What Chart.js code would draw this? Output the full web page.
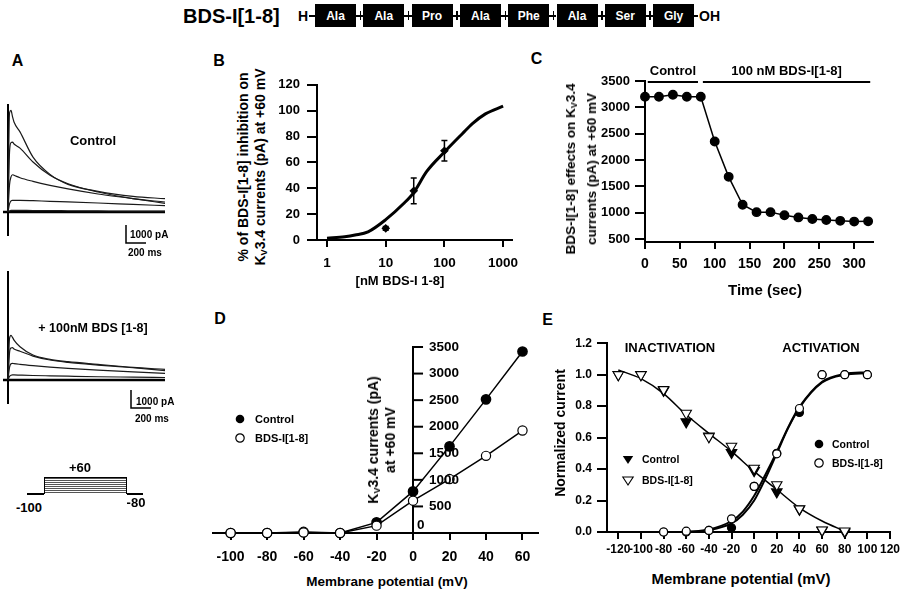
<!DOCTYPE html>
<html lang="en">
<head>
<meta charset="UTF-8">
<meta name="viewport" content="width=device-width, initial-scale=1.0">
<title>BDS-I[1-8] - Kv3.4 currents</title>
<script src="https://cdn.jsdelivr.net/npm/chart.js"></script>
<style>
    body { margin: 0; background: #fff; }
    #fig {
        position: relative; width: 909px; height: 592px; overflow: hidden; background: #fff; color: #000;
        font-family: 'Liberation Sans', Arial, Helvetica, sans-serif; font-weight: bold;
    }
    .plot { position: absolute; }
    .t { position: absolute; transform: translate(-50%, -50%); white-space: nowrap; line-height: 1; }
    .t.l { transform: translate(0, -50%); }
    .rot { position: absolute; transform: translate(-50%, -50%) rotate(-90deg); white-space: nowrap; text-align: center; }
    sub { font-size: 0.65em; vertical-align: -0.2em; line-height: 0; }
    .panel { font-size: 16px; }
    .aa {
        position: absolute; top: 4px; width: 41px; height: 23px; background: #000; color: #fff; font-size: 12px;
        display: flex; align-items: center; justify-content: center;
    }
    .link { position: absolute; top: 15px; height: 1.5px; background: #000; }
    .link.tick::after { content: ''; position: absolute; left: 50%; top: -4px; width: 1.5px; height: 9px; background: #000; }
    .mk { position: absolute; transform: translate(-50%, -50%); overflow: visible; }
    .line { position: absolute; background: #000; }
    #proto {
        position: absolute; left: 44px; top: 477px; width: 83px; height: 17px; box-sizing: border-box;
        border: 1.5px solid #000; border-bottom: none;
        background: repeating-linear-gradient(to bottom, #555 0, #555 1px, #fff 1px, #fff 2px);
    }
</style>
</head>
<body>
<div id="fig">
    <!-- sequence header -->
    <div class="t l" style="left:183px;top:15.5px;font-size:20px">BDS-I[1-8]</div>
    <div class="t l" style="left:298px;top:16px;font-size:14px">H</div>
    <div id="seq"></div>
    <div class="t l" style="left:699px;top:16px;font-size:14px">OH</div>

    <!-- panel letters -->
    <div class="t panel" style="left:17.5px;top:61px">A</div>
    <div class="t panel" style="left:219px;top:61px">B</div>
    <div class="t panel" style="left:536.5px;top:59px">C</div>
    <div class="t panel" style="left:220px;top:319px">D</div>
    <div class="t panel" style="left:547.5px;top:320px">E</div>

    <!-- panel A -->
    <div class="plot" id="wrapA1"><canvas id="chartA1"></canvas></div>
    <div class="plot" id="wrapA2"><canvas id="chartA2"></canvas></div>
    <div class="t" style="left:93px;top:140px;font-size:13px">Control</div>
    <div class="t" style="left:93px;top:328px;font-size:12.5px">+ 100nM BDS [1-8]</div>
    <div class="t l" style="left:130px;top:235px;font-size:10px">1000 pA</div>
    <div class="t l" style="left:128px;top:253px;font-size:10px">200 ms</div>
    <div class="t l" style="left:136px;top:402px;font-size:10px">1000 pA</div>
    <div class="t l" style="left:135px;top:419px;font-size:10px">200 ms</div>
    <div class="line" style="left:27px;top:493px;width:17px;height:1.5px"></div>
    <div id="proto"></div>
    <div class="line" style="left:127px;top:493px;width:16px;height:1.5px"></div>
    <div class="t" style="left:80px;top:467px;font-size:13px">+60</div>
    <div class="t" style="left:29px;top:507px;font-size:13px">-100</div>
    <div class="t" style="left:136px;top:502px;font-size:13px">-80</div>

    <!-- panel B -->
    <div class="plot" id="wrapB"><canvas id="chartB"></canvas></div>
    <div class="rot" style="left:252px;top:167px;font-size:14px;line-height:17px">% of BDS-I[1-8] inhibition on<br>K<sub>V</sub>3.4 currents (pA) at +60 mV</div>
    <div class="t" style="left:400px;top:280px;font-size:13px">[nM BDS-I 1-8]</div>

    <!-- panel C -->
    <div class="plot" id="wrapC"><canvas id="chartC"></canvas></div>
    <div class="rot" style="left:581px;top:169px;font-size:13.5px;line-height:21px">BDS-I[1-8] effects on K<sub>V</sub>3.4<br>currents (pA) at +60 mV</div>
    <div class="t" style="left:765px;top:289px;font-size:15px">Time (sec)</div>

    <!-- panel D -->
    <div class="plot" id="wrapD"><canvas id="chartD"></canvas></div>
    <div class="rot" style="left:381.5px;top:440px;font-size:14px;line-height:17px">K<sub>V</sub>3.4 currents (pA)<br>at +60 mV</div>
    <div class="t" style="left:387px;top:582px;font-size:13.5px">Membrane potential (mV)</div>
    <svg class="mk" style="left:240px;top:419px" width="10" height="10" viewBox="-5 -5 10 10"><circle r="4.3" fill="#000"/></svg>
    <div class="t l" style="left:255px;top:419px;font-size:11px">Control</div>
    <svg class="mk" style="left:240px;top:438px" width="10" height="10" viewBox="-5 -5 10 10"><circle r="4.2" fill="#fff" stroke="#000" stroke-width="1.2"/></svg>
    <div class="t l" style="left:255px;top:438px;font-size:11px">BDS-I[1-8]</div>

    <!-- panel E -->
    <div class="plot" id="wrapE"><canvas id="chartE"></canvas></div>
    <div class="rot" style="left:560px;top:433px;font-size:14px">Normalized current</div>
    <div class="t" style="left:741px;top:578px;font-size:15px">Membrane potential (mV)</div>
    <div class="t" style="left:670px;top:347px;font-size:13px">INACTIVATION</div>
    <div class="t" style="left:821px;top:347px;font-size:13px">ACTIVATION</div>
    <svg class="mk" style="left:628px;top:459px" width="12" height="12" viewBox="-6 -6 12 12"><path d="M0 5 L-5.2 -3 L5.2 -3 Z" fill="#000"/></svg>
    <div class="t l" style="left:642px;top:459px;font-size:10.5px">Control</div>
    <svg class="mk" style="left:628px;top:480px" width="12" height="12" viewBox="-6 -6 12 12"><path d="M0 5 L-5.2 -3 L5.2 -3 Z" fill="#fff" stroke="#000" stroke-width="1.1"/></svg>
    <div class="t l" style="left:642px;top:480px;font-size:10.5px">BDS-I[1-8]</div>
    <svg class="mk" style="left:819px;top:444px" width="10" height="10" viewBox="-5 -5 10 10"><circle r="4.3" fill="#000"/></svg>
    <div class="t l" style="left:832px;top:444px;font-size:10.5px">Control</div>
    <svg class="mk" style="left:819px;top:463px" width="10" height="10" viewBox="-5 -5 10 10"><circle r="4.2" fill="#fff" stroke="#000" stroke-width="1.2"/></svg>
    <div class="t l" style="left:832px;top:463px;font-size:10.5px">BDS-I[1-8]</div>
</div>

<script>
    // ---- data ----

    // peptide sequence
    const PEPTIDE = ['Ala', 'Ala', 'Pro', 'Ala', 'Phe', 'Ala', 'Ser', 'Gly'];

    // A: current traces, time in ms, current in pA
    const A_T = [0, 15, 30, 45, 60, 120, 250, 420, 600, 900, 1250, 1570];
    const A_CTRL_1 = [0, 5500, 5640, 5300, 5000, 4450, 3050, 2090, 1535, 1150, 870, 740];
    const A_CTRL_2 = [0, 3300, 3850, 3880, 3780, 3550, 2775, 2035, 1570, 1110, 740, 555];
    const A_CTRL_3 = [0, 1500, 1950, 2070, 2040, 1900, 1700, 1480, 1280, 1000, 740, 480];
    const A_CTRL_4 = [0, 450, 620, 650, 650, 650, 630, 590, 560, 500, 420, 350];
    const A_CTRL_5 = [0, 60, 90, 90, 90, 90, 80, 80, 70, 60, 50, 50];
    const A_BDS_1 = [0, 2300, 2480, 2370, 2220, 1850, 1390, 1150, 1020, 870, 700, 590];
    const A_BDS_2 = [0, 1500, 1780, 1800, 1720, 1600, 1330, 1110, 980, 830, 680, 520];
    const A_BDS_3 = [0, 700, 900, 925, 910, 870, 800, 720, 650, 550, 450, 370];
    const A_BDS_4 = [0, 200, 260, 280, 280, 270, 250, 230, 210, 180, 160, 140];
    const A_HOLD_T = [-50, 1570];
    const A_HOLD = [0, 0];
    const SCALE_BAR_PA = 1000;
    const SCALE_BAR_MS = 200;

    // B: concentration-response
    const B_CONC = [10, 30, 100];
    const B_INHIB = [9, 38, 69];
    const B_SEM = [1.5, 10, 8];
    const B_FIT_CONC = [1, 2, 3, 5, 10, 20, 30, 50, 100, 200, 300, 500, 1000];
    const B_FIT_INHIB = [1.3, 2.5, 3.8, 6.3, 15.7, 28, 36.7, 53, 68, 82, 90, 97.5, 103.5];
    const B_X_TICKS = [1, 10, 100, 1000];
    const B_Y_TICKS = [0, 20, 40, 60, 80, 100, 120];

    // C: time course at +60 mV
    const C_TIME = [0, 20, 40, 60, 80, 100, 120, 140, 160, 180, 200, 220, 240, 260, 280, 300, 320];
    const C_CURRENT = [3200, 3200, 3240, 3200, 3200, 2350, 1680, 1150, 1010, 1010, 950, 910, 880, 860, 845, 830, 835];
    const C_X_TICKS = [0, 50, 100, 150, 200, 250, 300];
    const C_Y_TICKS = [500, 1000, 1500, 2000, 2500, 3000, 3500];
    const C_PERIODS = ['Control', '100 nM BDS-I[1-8]'];
    const C_PERIOD_FROM = [4, 83];
    const C_PERIOD_TO = [76, 323];

    // D: I-V relationship
    const D_VOLT = [-100, -80, -60, -40, -20, 0, 20, 40, 60];
    const D_CTRL = [0, 0, 20, 0, 200, 783, 1630, 2515, 3415];
    const D_BDS = [0, 0, 10, 0, 138, 608, 1015, 1452, 1928];
    const D_Y_TICKS = [0, 500, 1000, 1500, 2000, 2500, 3000, 3500];

    // E: activation / inactivation
    const E_INACT_V = [-120, -100, -80, -60, -40, -20, 0, 20, 40, 60, 80];
    const E_INACT_CTRL = [1.0, 1.0, 0.9, 0.70, 0.61, 0.505, 0.39, 0.255, 0.145, 0.01, 0.0];
    const E_INACT_BDS = [1.0, 1.0, 0.905, 0.755, 0.605, 0.545, 0.405, 0.30, 0.147, 0.013, 0.006];
    const E_ACT_V = [-80, -60, -40, -20, 0, 20, 40, 60, 80, 100];
    const E_ACT_CTRL = [0, 0, 0.01, 0.027, 0.29, 0.5, 0.76, 1.0, 1.0, 1.0];
    const E_ACT_BDS = [0, 0.005, 0.01, 0.084, 0.29, 0.497, 0.785, 1.0, 1.0, 1.0];
    const E_INACT_FIT_V = [-120, -100, -80, -60, -40, -20, 0, 20, 40, 60, 80];
    const E_INACT_FIT = [1.03, 0.975, 0.88, 0.745, 0.627, 0.512, 0.385, 0.27, 0.154, 0.07, 0.005];
    const E_ACT_FIT_V = [-60, -40, -20, -10, 0, 10, 20, 30, 40, 60, 80, 100];
    const E_ACT_FIT_CTRL = [0, 0.012, 0.055, 0.11, 0.2, 0.34, 0.5, 0.66, 0.79, 0.95, 1.0, 1.01];
    const E_ACT_FIT_BDS = [0, 0.016, 0.07, 0.13, 0.23, 0.365, 0.51, 0.665, 0.795, 0.955, 1.005, 1.015];
    const E_X_TICKS = [-120, -100, -80, -60, -40, -20, 0, 20, 40, 60, 80, 100, 120];
    const E_Y_TICKS = [0, 0.2, 0.4, 0.6, 0.8, 1.0, 1.2];

    // ---- peptide boxes ----
    const seq = document.getElementById('seq');
    const SEQ_LEFT = 315, SEQ_PITCH = 48.3, BOX_W = 41;
    function link(from, to, tick) {
        const d = document.createElement('div');
        d.className = tick ? 'link tick' : 'link';
        d.style.left = from + 'px';
        d.style.width = (to - from) + 'px';
        seq.appendChild(d);
    }
    link(309, SEQ_LEFT, false);
    PEPTIDE.forEach((aa, i) => {
        const x = SEQ_LEFT + i * SEQ_PITCH;
        const b = document.createElement('div');
        b.className = 'aa';
        b.style.left = x + 'px';
        b.textContent = aa;
        seq.appendChild(b);
        if (i < PEPTIDE.length - 1) link(x + BOX_W, x + SEQ_PITCH, true);
    });
    link(SEQ_LEFT + (PEPTIDE.length - 1) * SEQ_PITCH + BOX_W, 698, false);

    // ---- chart setup ----
    const FONT = "'Liberation Sans', Arial, Helvetica, sans-serif";
    Chart.defaults.font.family = FONT;
    Chart.defaults.font.weight = 'bold';
    Chart.defaults.color = '#000';
    Chart.defaults.animation = false;
    Chart.defaults.responsive = true;
    Chart.defaults.maintainAspectRatio = false;
    Chart.defaults.events = [];
    Chart.defaults.plugins.legend.display = false;
    Chart.defaults.plugins.tooltip.enabled = false;

    const xy = (xs, ys) => xs.map((x, i) => ({x: x, y: ys[i]}));

    // place the wrapper so that the chart area lands on the wanted page box
    function frame(wrapId, area, yW, xH, pad) {
        const left = Math.floor(area.l - yW - pad.l);
        const top = Math.floor(area.t - pad.t);
        const right = Math.ceil(area.r + pad.r);
        const bottom = Math.ceil(area.b + xH + pad.b);
        const wrap = document.getElementById(wrapId);
        wrap.style.left = left + 'px';
        wrap.style.top = top + 'px';
        wrap.style.width = (right - left) + 'px';
        wrap.style.height = (bottom - top) + 'px';
        return {left: area.l - yW - left, top: area.t - top, right: right - area.r, bottom: bottom - area.b - xH};
    }

    function axis(o) {
        const a = {
            type: o.type || 'linear',
            min: o.min,
            max: o.max,
            border: {display: true, color: '#000', width: 2},
            grid: {display: o.tickLen > 0, drawOnChartArea: false, drawTicks: true, tickLength: o.tickLen || 0, color: '#000', lineWidth: 2},
            ticks: {
                display: o.size > 0, color: '#000', font: {size: o.size || 12, weight: 'bold'}, padding: o.pad || 0,
                autoSkip: false, maxRotation: 0, minRotation: 0, callback: o.fmt || (v => String(v))
            },
            afterBuildTicks: s => { s.ticks = (o.ticks || []).map(v => ({value: v})); },
            afterFit: s => {
                if (o.fit === undefined) return;
                if (s.isHorizontal()) s.height = o.fit; else s.width = o.fit;
            }
        };
        if (o.position) a.position = o.position;
        return a;
    }

    function curve(xs, ys, extra) {
        return Object.assign({
            data: xy(xs, ys), pointRadius: 0, borderColor: '#000', borderWidth: 1.5,
            cubicInterpolationMode: 'monotone', clip: false
        }, extra);
    }

    function markers(xs, ys, extra) {
        return Object.assign({
            data: xy(xs, ys), showLine: false, pointRadius: 4, pointBorderWidth: 1.2,
            pointBackgroundColor: '#000', pointBorderColor: '#000', borderColor: '#000', clip: false
        }, extra);
    }

    // ---- plugins ----
    function scaleBar(pageLeft, pageBottom) {
        return {
            id: 'scaleBar',
            afterDraw(chart) {
                const {ctx, scales: {x, y}} = chart;
                const w = x.getPixelForValue(SCALE_BAR_MS) - x.getPixelForValue(0);
                const h = y.getPixelForValue(0) - y.getPixelForValue(SCALE_BAR_PA);
                const wrap = chart.canvas.parentElement;
                const cx = pageLeft - wrap.offsetLeft, cy = pageBottom - wrap.offsetTop;
                ctx.save();
                ctx.strokeStyle = '#000';
                ctx.lineWidth = 1.5;
                ctx.beginPath();
                ctx.moveTo(cx, cy - h);
                ctx.lineTo(cx, cy);
                ctx.lineTo(cx + w, cy);
                ctx.stroke();
                ctx.restore();
            }
        };
    }

    function errorBars(xs, means, sems) {
        return {
            id: 'errorBars',
            afterDatasetsDraw(chart) {
                const {ctx, scales: {x, y}} = chart;
                ctx.save();
                ctx.strokeStyle = '#000';
                ctx.lineWidth = 1.5;
                xs.forEach((v, i) => {
                    const px = x.getPixelForValue(v);
                    const lo = y.getPixelForValue(means[i] - sems[i]);
                    const hi = y.getPixelForValue(means[i] + sems[i]);
                    ctx.beginPath();
                    ctx.moveTo(px, lo); ctx.lineTo(px, hi);
                    ctx.moveTo(px - 3, lo); ctx.lineTo(px + 3, lo);
                    ctx.moveTo(px - 3, hi); ctx.lineTo(px + 3, hi);
                    ctx.stroke();
                });
                ctx.restore();
            }
        };
    }

    const periodBars = {
        id: 'periodBars',
        afterDraw(chart) {
            const {ctx, chartArea, scales: {x}} = chart;
            const yy = chartArea.top + 1;
            ctx.save();
            ctx.strokeStyle = '#000';
            ctx.fillStyle = '#000';
            ctx.lineWidth = 2;
            ctx.font = 'bold 13px ' + FONT;
            ctx.textAlign = 'center';
            ctx.textBaseline = 'middle';
            C_PERIODS.forEach((lab, i) => {
                const a = x.getPixelForValue(C_PERIOD_FROM[i]);
                const b = x.getPixelForValue(C_PERIOD_TO[i]);
                ctx.beginPath();
                ctx.moveTo(a, yy);
                ctx.lineTo(b, yy);
                ctx.stroke();
                ctx.fillText(lab, (a + b) / 2, yy - 11);
            });
            ctx.restore();
        }
    };

    // y axis of D sits at 0 mV with ticks and labels on its right side
    const midAxis = {
        id: 'midAxis',
        afterDraw(chart) {
            const {ctx, scales: {x, y}} = chart;
            const x0 = x.getPixelForValue(0);
            ctx.save();
            ctx.strokeStyle = '#000';
            ctx.fillStyle = '#000';
            ctx.lineWidth = 2;
            ctx.font = 'bold 13.5px ' + FONT;
            ctx.textAlign = 'left';
            ctx.textBaseline = 'middle';
            y.ticks.forEach(t => {
                const py = y.getPixelForValue(t.value);
                ctx.beginPath();
                ctx.moveTo(x0, py);
                ctx.lineTo(x0 + 10, py);
                ctx.stroke();
                if (t.value === 0) ctx.fillText('0', x0 + 4, py - 8);
                else ctx.fillText(String(t.value), x0 + 16, py);
            });
            ctx.restore();
        }
    };

    // ---- A: traces ----
    function traceChart(wrapId, canvasId, area, yMin, yMax, traces, barLeft, barBottom) {
        const padding = frame(wrapId, area, 0, 0, {l: 3, t: 2, r: 4, b: barBottom - area.b + 4});
        const sets = traces.map(ys => curve(A_T, ys, {borderWidth: 1.2, borderColor: '#1a1a1a'}));
        sets.push(curve(A_HOLD_T, A_HOLD, {borderWidth: 2.5, cubicInterpolationMode: 'default', tension: 0}));
        new Chart(document.getElementById(canvasId), {
            type: 'line',
            data: {datasets: sets},
            options: {
                layout: {padding: padding},
                scales: {
                    x: {type: 'linear', display: false, min: -50, max: 1600},
                    y: {
                        type: 'linear', min: yMin, max: yMax, position: {x: 0},
                        border: {display: true, color: '#000', width: 2},
                        grid: {display: false}, ticks: {display: false}
                    }
                }
            },
            plugins: [scaleBar(barLeft, barBottom)]
        });
    }

    traceChart('wrapA1', 'chartA1', {l: 3, t: 105, r: 168, b: 235}, -1278, 5944,
        [A_CTRL_1, A_CTRL_2, A_CTRL_3, A_CTRL_4, A_CTRL_5], 126, 243);
    traceChart('wrapA2', 'chartA2', {l: 3, t: 272, r: 168, b: 403}, -1278, 6000,
        [A_BDS_1, A_BDS_2, A_BDS_3, A_BDS_4], 131, 408);

    // ---- B ----
    const padB = frame('wrapB', {l: 317, t: 82, r: 512, b: 240}, 45, 32, {l: 2, t: 12, r: 16, b: 2});
    new Chart(document.getElementById('chartB'), {
        type: 'line',
        data: {
            datasets: [
                markers(B_CONC, B_INHIB, {pointStyle: 'rectRot', pointRadius: 3.5}),
                curve(B_FIT_CONC, B_FIT_INHIB, {borderWidth: 3})
            ]
        },
        options: {
            layout: {padding: padB},
            scales: {
                x: axis({type: 'logarithmic', min: 0.675, max: 1417, ticks: B_X_TICKS, tickLen: 7, size: 13.5, pad: 8, fit: 32}),
                y: axis({min: 0, max: 120, ticks: B_Y_TICKS, tickLen: 10, size: 13, pad: 7, fit: 45})
            }
        },
        plugins: [errorBars(B_CONC, B_INHIB, B_SEM)]
    });

    // ---- C ----
    const padC = frame('wrapC', {l: 645, t: 81, r: 873, b: 242}, 55, 34, {l: 2, t: 24, r: 10, b: 2});
    new Chart(document.getElementById('chartC'), {
        type: 'line',
        data: {
            datasets: [{
                data: xy(C_TIME, C_CURRENT), borderColor: '#000', borderWidth: 1.5, tension: 0,
                pointRadius: 4.2, pointBackgroundColor: '#000', pointBorderColor: '#000', clip: false
            }]
        },
        options: {
            layout: {padding: padC},
            scales: {
                x: axis({min: 0, max: 327, ticks: C_X_TICKS, tickLen: 7, size: 14, pad: 7, fit: 34}),
                y: axis({min: 443, max: 3500, ticks: C_Y_TICKS, tickLen: 10, size: 13, pad: 5, fit: 55})
            }
        },
        plugins: [periodBars]
    });

    // ---- D ----
    const padD = frame('wrapD', {l: 213, t: 347, r: 538, b: 533}, 0, 36, {l: 6, t: 12, r: 8, b: 2});
    new Chart(document.getElementById('chartD'), {
        type: 'line',
        data: {
            datasets: [
                {
                    data: xy(D_VOLT, D_BDS), borderColor: '#000', borderWidth: 1.5, tension: 0, pointRadius: 4.6,
                    pointBackgroundColor: '#fff', pointBorderColor: '#000', pointBorderWidth: 1.2, clip: false
                },
                {
                    data: xy(D_VOLT, D_CTRL), borderColor: '#000', borderWidth: 1.5, tension: 0, pointRadius: 4.6,
                    pointBackgroundColor: '#000', pointBorderColor: '#000', clip: false
                }
            ]
        },
        options: {
            layout: {padding: padD},
            scales: {
                x: axis({min: -109.6, max: 68.5, ticks: D_VOLT, tickLen: 7, size: 14, pad: 9, fit: 36}),
                y: axis({min: 0, max: 3500, ticks: D_Y_TICKS, tickLen: 0, size: 0, position: {x: 0}})
            }
        },
        plugins: [midAxis]
    });

    // ---- E ----
    const padE = frame('wrapE', {l: 607, t: 343, r: 890, b: 532}, 45, 30, {l: 2, t: 12, r: 14, b: 2});
    new Chart(document.getElementById('chartE'), {
        type: 'line',
        data: {
            datasets: [
                markers(E_ACT_V, E_ACT_BDS, {pointBackgroundColor: '#fff'}),
                markers(E_INACT_V, E_INACT_BDS, {pointStyle: 'triangle', pointRotation: 180, pointRadius: 6, pointBackgroundColor: '#fff', pointBorderWidth: 1.1}),
                markers(E_ACT_V, E_ACT_CTRL, {}),
                markers(E_INACT_V, E_INACT_CTRL, {pointStyle: 'triangle', pointRotation: 180, pointRadius: 6}),
                curve(E_INACT_FIT_V, E_INACT_FIT, {borderWidth: 1.5}),
                curve(E_ACT_FIT_V, E_ACT_FIT_CTRL, {borderWidth: 2}),
                curve(E_ACT_FIT_V, E_ACT_FIT_BDS, {borderWidth: 2})
            ]
        },
        options: {
            layout: {padding: padE},
            scales: {
                x: axis({min: -130, max: 120, ticks: E_X_TICKS, tickLen: 7, size: 12, pad: 3, fit: 30}),
                y: axis({min: 0, max: 1.2, ticks: E_Y_TICKS, tickLen: 10, size: 12, pad: 5, fit: 45, fmt: v => v.toFixed(1)})
            }
        }
    });
</script>
</body>
</html>
